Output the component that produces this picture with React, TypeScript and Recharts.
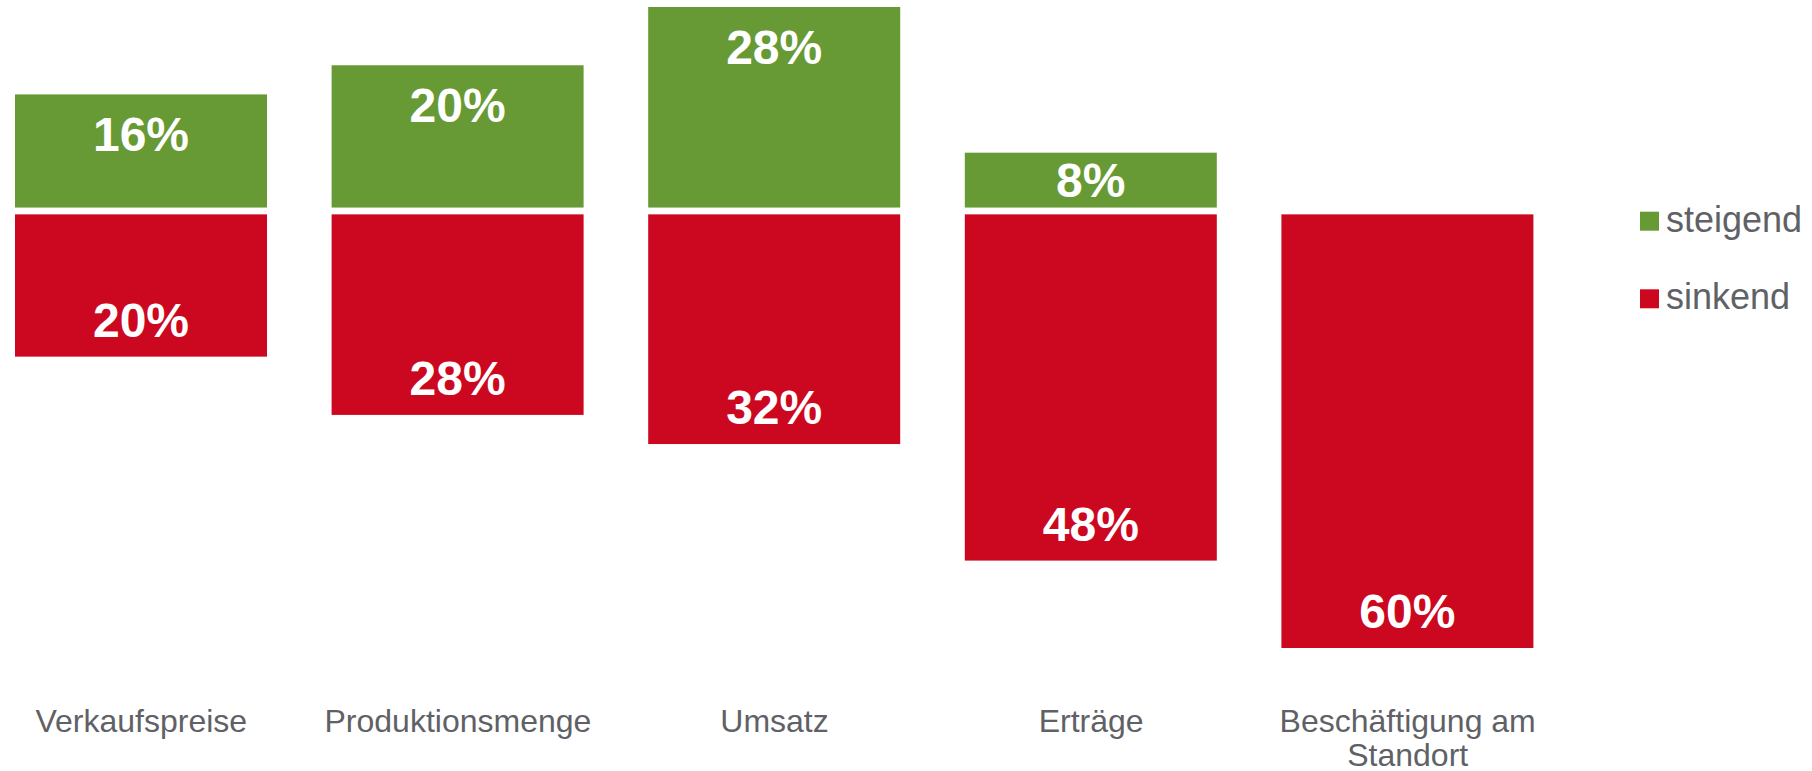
import React from 'react';
import { Bar, BarChart, XAxis, YAxis, Legend, LabelList } from 'recharts';

// Werte
const categories = ['Verkaufspreise', 'Produktionsmenge', 'Umsatz', 'Erträge', 'Beschäftigung am\nStandort'];
const steigend = [16, 20, 28, 8, 0];
const sinkend = [20, 28, 32, 48, 60];
const seriesOrder = ['steigend', 'sinkend'];

const GREEN = '#679A34';
const RED = '#CC0820';
const GREY = '#606166';
const FONT = '"Liberation Sans", Arial, sans-serif';
const GAP = 3.4; // half of the white gap at the zero line

// sinkend is drawn below zero, labels keep the positive number
const data = categories.map((name, i) => ({
  name,
  steigend: steigend[i],
  sinkend: sinkend[i],
  sinkendNeg: -sinkend[i],
}));

const box = (p: any) => {
  const vb = p.viewBox || p;
  const y = Number(vb.y);
  const h = Number(vb.height);
  return { x: Number(vb.x), width: Number(vb.width), top: h < 0 ? y + h : y, h: Math.abs(h) };
};

const GreenShape = (props: any) => {
  const { x, width, top, h } = box(props);
  if (h - GAP <= 0) return null;
  return <rect x={x} y={top} width={width} height={h - GAP} fill={GREEN} />;
};

const RedShape = (props: any) => {
  const { x, width, top, h } = box(props);
  if (h - GAP <= 0) return null;
  return <rect x={x} y={top + GAP} width={width} height={h - GAP} fill={RED} />;
};

const labelText = (cx: number, cy: number, value: number) => (
  <text
    x={cx}
    y={cy + 17}
    textAnchor="middle"
    fill="#ffffff"
    fontSize={48}
    fontWeight="bold"
    fontFamily={FONT}
  >
    {`${value}%`}
  </text>
);

const GreenLabel = (props: any) => {
  if (!props.value) return null;
  const { x, width, top, h } = box(props);
  const drawn = h - GAP;
  return labelText(x + width / 2, top + Math.min(40, drawn / 2), props.value);
};

const RedLabel = (props: any) => {
  if (!props.value) return null;
  const { x, width, top, h } = box(props);
  const drawn = h - GAP;
  return labelText(x + width / 2, top + h - Math.min(37, drawn / 2), props.value);
};

const CategoryTick = (props: any) => {
  const { x, y, payload } = props;
  const lines = String(payload.value).split('\n');
  return (
    <text x={x} y={y + 84} textAnchor="middle" fontSize={32} fontFamily={FONT} fill={GREY}>
      {lines.map((line, i) => (
        <tspan key={i} x={x} dy={i === 0 ? 0 : 34}>
          {line}
        </tspan>
      ))}
    </text>
  );
};

const LegendContent = (props: any) => {
  const items = [...(props.payload || [])].sort(
    (a: any, b: any) => seriesOrder.indexOf(a.value) - seriesOrder.indexOf(b.value)
  );
  return (
    <svg width={175} height={125}>
      {items.map((item: any, i: number) => (
        <g key={item.value} transform={`translate(0, ${i * 77.6})`}>
          <rect x={0} y={11.7} width={19} height={19} fill={item.color} />
          <text x={26} y={31.7} fontSize={36} fontFamily={FONT} fill={GREY}>
            {item.value}
          </text>
        </g>
      ))}
    </svg>
  );
};

export default function App() {
  return (
    <div style={{ position: 'absolute', left: -17, top: 0, background: '#fff' }}>
      <BarChart
        width={1829}
        height={771}
        data={data}
        stackOffset="sign"
        barSize={252}
        margin={{ top: 7, right: 246, bottom: 0, left: 0 }}
      >
        <XAxis
          dataKey="name"
          axisLine={false}
          tickLine={false}
          tickSize={0}
          tickMargin={0}
          height={123}
          interval={0}
          tick={<CategoryTick />}
        />
        <YAxis hide type="number" domain={[-60, 28]} />
        <Legend
          layout="vertical"
          align="center"
          verticalAlign="middle"
          wrapperStyle={{ left: 1657, top: 200, width: 175 }}
          content={<LegendContent />}
        />
        <Bar dataKey="steigend" name="steigend" stackId="a" fill={GREEN} shape={<GreenShape />} isAnimationActive={false}>
          <LabelList dataKey="steigend" content={<GreenLabel />} />
        </Bar>
        <Bar dataKey="sinkendNeg" name="sinkend" stackId="a" fill={RED} shape={<RedShape />} isAnimationActive={false}>
          <LabelList dataKey="sinkend" content={<RedLabel />} />
        </Bar>
      </BarChart>
    </div>
  );
}
